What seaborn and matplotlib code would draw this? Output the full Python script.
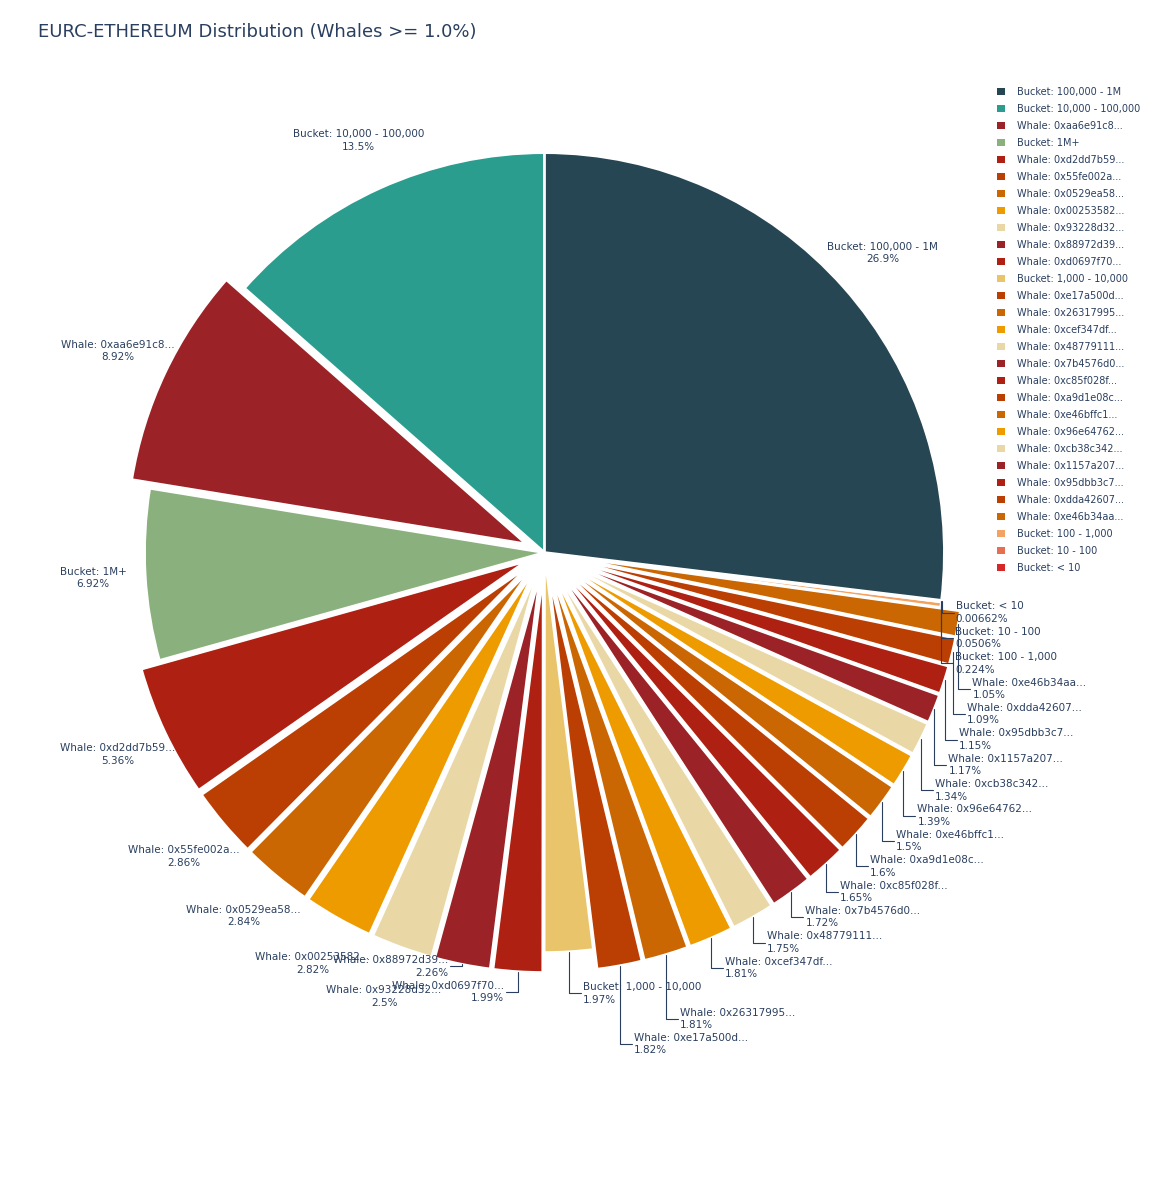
import numpy as np
import matplotlib
matplotlib.use("Agg")
import matplotlib.pyplot as plt
import seaborn as sns
from matplotlib.patches import Patch

sns.set_theme(style="white")
plt.rcParams['font.family'] = ['DejaVu Sans']

labels = ["Bucket: 100,000 - 1M", "Bucket: 10,000 - 100,000", "Whale: 0xaa6e91c8...", "Bucket: 1M+",
          "Whale: 0xd2dd7b59...", "Whale: 0x55fe002a...", "Whale: 0x0529ea58...", "Whale: 0x00253582...",
          "Whale: 0x93228d32...", "Whale: 0x88972d39...", "Whale: 0xd0697f70...", "Bucket: 1,000 - 10,000",
          "Whale: 0xe17a500d...", "Whale: 0x26317995...", "Whale: 0xcef347df...", "Whale: 0x48779111...",
          "Whale: 0x7b4576d0...", "Whale: 0xc85f028f...", "Whale: 0xa9d1e08c...", "Whale: 0xe46bffc1...",
          "Whale: 0x96e64762...", "Whale: 0xcb38c342...", "Whale: 0x1157a207...", "Whale: 0x95dbb3c7...",
          "Whale: 0xdda42607...", "Whale: 0xe46b34aa...", "Bucket: 100 - 1,000", "Bucket: 10 - 100",
          "Bucket: < 10"]
values = [26.9, 13.5, 8.92, 6.92, 5.36, 2.86, 2.84, 2.82, 2.5, 2.26, 1.99, 1.97, 1.82, 1.81, 1.81,
          1.75, 1.72, 1.65, 1.6, 1.5, 1.39, 1.34, 1.17, 1.15, 1.09, 1.05, 0.224, 0.0506, 0.00662]
whale_cycle = ["#9b2226", "#ae2012", "#bb3e03", "#ca6702", "#ee9b00", "#e9d8a6"]
bucket_colors = {"Bucket: 100,000 - 1M": "#264653", "Bucket: 10,000 - 100,000": "#2a9d8f",
                 "Bucket: 1M+": "#8ab17d", "Bucket: 1,000 - 10,000": "#e9c46a",
                 "Bucket: 100 - 1,000": "#f4a261", "Bucket: 10 - 100": "#e76f51",
                 "Bucket: < 10": "#d62828"}
colors = []
wi = 0
for l in labels:
    if l.startswith("Whale"):
        colors.append(whale_cycle[wi % 6]); wi += 1
    else:
        colors.append(bucket_colors[l])
explode = [0.05 if l.startswith("Whale") else 0.0 for l in labels]

# drawing order: counter-clockwise from 12 o'clock, largest slice last
order = list(range(1, len(values))) + [0]

TXT = "#2a3f5f"
fig = plt.figure(figsize=(11.56, 12), dpi=100)
ax = fig.add_axes([0.125, 0.206, 0.692, 0.667])
wedges_o, _ = ax.pie([values[i] for i in order], colors=[colors[i] for i in order],
                     explode=[explode[i] for i in order], startangle=90, counterclock=True,
                     wedgeprops=dict(edgecolor="white", linewidth=2))
wedges = [None] * len(values)
for k, i in enumerate(order):
    wedges[i] = wedges_o[k]
ax.set_xlim(-1, 1); ax.set_ylim(-1, 1); ax.set_aspect("equal"); ax.axis("off")
for w in wedges:
    w.set_clip_on(False)

def txt(i):
    return f"{labels[i]}\n{values[i]:.3g}%"

right, left = [], []
for i, w in enumerate(wedges):
    ang = np.deg2rad((w.theta1 + w.theta2) / 2)
    r = 1 + explode[i]
    ax_, ay_ = r * np.cos(ang), r * np.sin(ang)
    if i < 9:
        rr = r + 0.13
        ax.text(rr * np.cos(ang), rr * np.sin(ang), txt(i), ha="center", va="center",
                fontsize=7.5, color=TXT, linespacing=1.3)
    elif ax_ >= 0:
        right.append([i, ax_, ay_])
    else:
        left.append([i, ax_, ay_])

gap = 0.0635
right.sort(key=lambda t: -t[2])
prev = None
for item in right:
    y = item[2] - 0.03
    if prev is not None:
        y = min(y, prev - gap)
    prev = y
    item.append(y)
left.sort(key=lambda t: t[2])
prev = None
for item in left:
    y = item[2] - 0.05
    if prev is not None:
        y = max(y, prev + gap)
    prev = y
    item.append(y)

for group, sgn in ((right, 1), (left, -1)):
    for i, x0, y0, y in group:
        tx = x0 + sgn * 0.03
        ax.plot([x0, x0, tx], [y0, y, y], color=TXT, lw=0.8, clip_on=False)
        ax.text(tx + sgn * 0.005, y, txt(i), ha="left" if sgn > 0 else "right", va="center",
                fontsize=7.5, color=TXT, linespacing=1.3)

fig.text(0.033, 0.973, "EURC-ETHEREUM Distribution (Whales >= 1.0%)", fontsize=13, color=TXT,
         ha="left", va="center")
handles = [Patch(facecolor=c, edgecolor="none") for c in colors]
leg = fig.legend(handles, labels, loc="upper left", bbox_to_anchor=(0.855, 0.935), frameon=False,
                 fontsize=7, handlelength=0.8, handleheight=0.8, labelspacing=0.72, handletextpad=1.2)
for t in leg.get_texts():
    t.set_color(TXT)
fig.savefig("out.png", dpi=100, facecolor="white")
